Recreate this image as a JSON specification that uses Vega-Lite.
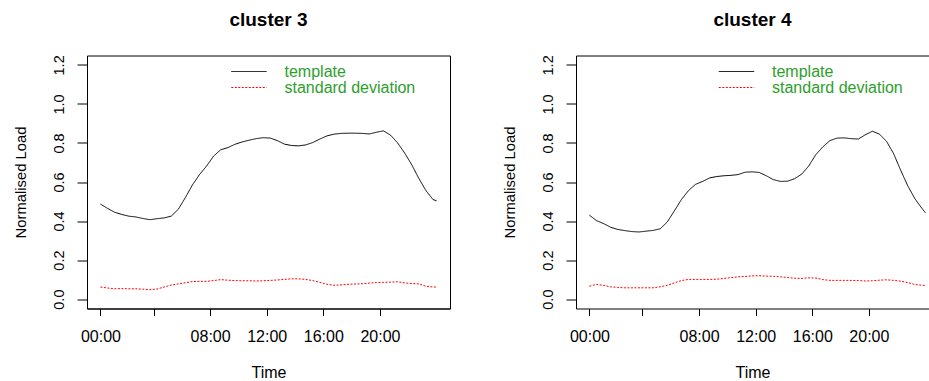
{
  "$schema": "https://vega.github.io/schema/vega-lite/v6.json",
  "autosize": {"type": "pad"},
  "padding": {"left": 12, "top": 10.5, "right": 0, "bottom": 0},
  "background": "white",
  "bounds": "flush",
  "spacing": 126,
  "config": {
    "font": "Liberation Sans",
    "view": {"stroke": "#000000", "strokeWidth": 1},
    "title": {"fontSize": 19, "fontWeight": "bold", "font": "Liberation Sans", "baseline": "alphabetic", "offset": 24.5, "anchor": "middle", "color": "#000000"},
    "axis": {"grid": false, "domainColor": "#000000", "tickColor": "#000000", "labelColor": "#000000", "titleColor": "#000000", "titleFontWeight": "normal", "labelFont": "Liberation Sans", "titleFont": "Liberation Sans"},
    "legend": {"labelFont": "Liberation Sans"}
  },
  "datasets": {
    "d": [
      {"c":"cluster 3","i":0,"template":0.487,"standard deviation":0.062},
      {"c":"cluster 3","i":2,"template":0.465,"standard deviation":0.057},
      {"c":"cluster 3","i":4,"template":0.445,"standard deviation":0.053},
      {"c":"cluster 3","i":6,"template":0.434,"standard deviation":0.054},
      {"c":"cluster 3","i":8,"template":0.425,"standard deviation":0.053},
      {"c":"cluster 3","i":10,"template":0.421,"standard deviation":0.053},
      {"c":"cluster 3","i":12,"template":0.413,"standard deviation":0.051},
      {"c":"cluster 3","i":14,"template":0.407,"standard deviation":0.048},
      {"c":"cluster 3","i":16,"template":0.412,"standard deviation":0.052},
      {"c":"cluster 3","i":18,"template":0.416,"standard deviation":0.062},
      {"c":"cluster 3","i":20,"template":0.425,"standard deviation":0.072},
      {"c":"cluster 3","i":22,"template":0.460,"standard deviation":0.078},
      {"c":"cluster 3","i":24,"template":0.520,"standard deviation":0.084},
      {"c":"cluster 3","i":26,"template":0.585,"standard deviation":0.090},
      {"c":"cluster 3","i":28,"template":0.638,"standard deviation":0.091},
      {"c":"cluster 3","i":30,"template":0.682,"standard deviation":0.091},
      {"c":"cluster 3","i":32,"template":0.733,"standard deviation":0.095},
      {"c":"cluster 3","i":34,"template":0.765,"standard deviation":0.100},
      {"c":"cluster 3","i":36,"template":0.776,"standard deviation":0.097},
      {"c":"cluster 3","i":38,"template":0.793,"standard deviation":0.095},
      {"c":"cluster 3","i":40,"template":0.805,"standard deviation":0.094},
      {"c":"cluster 3","i":42,"template":0.814,"standard deviation":0.094},
      {"c":"cluster 3","i":44,"template":0.822,"standard deviation":0.093},
      {"c":"cluster 3","i":46,"template":0.827,"standard deviation":0.094},
      {"c":"cluster 3","i":48,"template":0.825,"standard deviation":0.096},
      {"c":"cluster 3","i":50,"template":0.812,"standard deviation":0.098},
      {"c":"cluster 3","i":52,"template":0.794,"standard deviation":0.101},
      {"c":"cluster 3","i":54,"template":0.787,"standard deviation":0.104},
      {"c":"cluster 3","i":56,"template":0.785,"standard deviation":0.104},
      {"c":"cluster 3","i":58,"template":0.790,"standard deviation":0.101},
      {"c":"cluster 3","i":60,"template":0.802,"standard deviation":0.095},
      {"c":"cluster 3","i":62,"template":0.820,"standard deviation":0.086},
      {"c":"cluster 3","i":64,"template":0.836,"standard deviation":0.076},
      {"c":"cluster 3","i":66,"template":0.845,"standard deviation":0.071},
      {"c":"cluster 3","i":68,"template":0.849,"standard deviation":0.073},
      {"c":"cluster 3","i":70,"template":0.850,"standard deviation":0.076},
      {"c":"cluster 3","i":72,"template":0.850,"standard deviation":0.077},
      {"c":"cluster 3","i":74,"template":0.849,"standard deviation":0.079},
      {"c":"cluster 3","i":76,"template":0.846,"standard deviation":0.082},
      {"c":"cluster 3","i":78,"template":0.855,"standard deviation":0.085},
      {"c":"cluster 3","i":80,"template":0.862,"standard deviation":0.086},
      {"c":"cluster 3","i":82,"template":0.840,"standard deviation":0.087},
      {"c":"cluster 3","i":84,"template":0.800,"standard deviation":0.089},
      {"c":"cluster 3","i":86,"template":0.748,"standard deviation":0.083},
      {"c":"cluster 3","i":88,"template":0.688,"standard deviation":0.080},
      {"c":"cluster 3","i":90,"template":0.618,"standard deviation":0.078},
      {"c":"cluster 3","i":92,"template":0.556,"standard deviation":0.066},
      {"c":"cluster 3","i":94,"template":0.510,"standard deviation":0.062},
      {"c":"cluster 3","i":95,"template":0.504,"standard deviation":0.062},
      {"c":"cluster 4","i":0,"template":0.430,"standard deviation":0.066},
      {"c":"cluster 4","i":2,"template":0.402,"standard deviation":0.076},
      {"c":"cluster 4","i":4,"template":0.387,"standard deviation":0.070},
      {"c":"cluster 4","i":6,"template":0.368,"standard deviation":0.063},
      {"c":"cluster 4","i":8,"template":0.357,"standard deviation":0.060},
      {"c":"cluster 4","i":10,"template":0.351,"standard deviation":0.058},
      {"c":"cluster 4","i":12,"template":0.346,"standard deviation":0.058},
      {"c":"cluster 4","i":14,"template":0.344,"standard deviation":0.058},
      {"c":"cluster 4","i":16,"template":0.348,"standard deviation":0.058},
      {"c":"cluster 4","i":18,"template":0.352,"standard deviation":0.058},
      {"c":"cluster 4","i":20,"template":0.360,"standard deviation":0.063},
      {"c":"cluster 4","i":22,"template":0.395,"standard deviation":0.071},
      {"c":"cluster 4","i":24,"template":0.452,"standard deviation":0.083},
      {"c":"cluster 4","i":26,"template":0.510,"standard deviation":0.095},
      {"c":"cluster 4","i":28,"template":0.556,"standard deviation":0.101},
      {"c":"cluster 4","i":30,"template":0.588,"standard deviation":0.101},
      {"c":"cluster 4","i":32,"template":0.603,"standard deviation":0.101},
      {"c":"cluster 4","i":34,"template":0.621,"standard deviation":0.101},
      {"c":"cluster 4","i":36,"template":0.628,"standard deviation":0.102},
      {"c":"cluster 4","i":38,"template":0.632,"standard deviation":0.106},
      {"c":"cluster 4","i":40,"template":0.634,"standard deviation":0.110},
      {"c":"cluster 4","i":42,"template":0.638,"standard deviation":0.114},
      {"c":"cluster 4","i":44,"template":0.650,"standard deviation":0.116},
      {"c":"cluster 4","i":46,"template":0.652,"standard deviation":0.119},
      {"c":"cluster 4","i":48,"template":0.649,"standard deviation":0.120},
      {"c":"cluster 4","i":50,"template":0.632,"standard deviation":0.118},
      {"c":"cluster 4","i":52,"template":0.612,"standard deviation":0.117},
      {"c":"cluster 4","i":54,"template":0.603,"standard deviation":0.114},
      {"c":"cluster 4","i":56,"template":0.604,"standard deviation":0.111},
      {"c":"cluster 4","i":58,"template":0.617,"standard deviation":0.107},
      {"c":"cluster 4","i":60,"template":0.640,"standard deviation":0.106},
      {"c":"cluster 4","i":62,"template":0.682,"standard deviation":0.109},
      {"c":"cluster 4","i":64,"template":0.740,"standard deviation":0.108},
      {"c":"cluster 4","i":66,"template":0.780,"standard deviation":0.100},
      {"c":"cluster 4","i":68,"template":0.812,"standard deviation":0.096},
      {"c":"cluster 4","i":70,"template":0.825,"standard deviation":0.096},
      {"c":"cluster 4","i":72,"template":0.826,"standard deviation":0.096},
      {"c":"cluster 4","i":74,"template":0.822,"standard deviation":0.096},
      {"c":"cluster 4","i":76,"template":0.820,"standard deviation":0.095},
      {"c":"cluster 4","i":78,"template":0.842,"standard deviation":0.093},
      {"c":"cluster 4","i":80,"template":0.860,"standard deviation":0.094},
      {"c":"cluster 4","i":82,"template":0.845,"standard deviation":0.097},
      {"c":"cluster 4","i":84,"template":0.808,"standard deviation":0.099},
      {"c":"cluster 4","i":86,"template":0.745,"standard deviation":0.096},
      {"c":"cluster 4","i":88,"template":0.660,"standard deviation":0.092},
      {"c":"cluster 4","i":90,"template":0.580,"standard deviation":0.085},
      {"c":"cluster 4","i":92,"template":0.515,"standard deviation":0.075},
      {"c":"cluster 4","i":94,"template":0.465,"standard deviation":0.071},
      {"c":"cluster 4","i":95,"template":0.442,"standard deviation":0.070}
    ]
  },
  "resolve": {"scale": {"color": "independent", "strokeDash": "independent"}, "legend": {"color": "independent", "strokeDash": "independent"}},
  "hconcat": [
    {
      "title": "cluster 3",
      "width": 363,
      "height": 253,
      "data": {"name": "d"},
      "transform": [
        {"filter": "datum.c == 'cluster 3'"},
        {"fold": ["template", "standard deviation"], "as": ["series", "value"]}
      ],
      "mark": {"type": "line", "strokeWidth": 1, "clip": true},
      "encoding": {
        "x": {"field": "i", "type": "quantitative",
          "scale": {"domain": [-3.8, 98.8], "nice": false, "zero": false},
          "axis": {"values": [0, 15, 31, 47, 63, 79],
            "labelExpr": "datum.value == 0 ? '00:00' : datum.value == 31 ? '08:00' : datum.value == 47 ? '12:00' : datum.value == 63 ? '16:00' : datum.value == 79 ? '20:00' : ''",
            "title": "Time", "tickSize": 7, "labelBaseline": "alphabetic", "labelPadding": 26, "labelFontSize": 16, "labelFlush": false, "labelOverlap": false,
            "titleFontSize": 16, "titleBaseline": "alphabetic", "titleY": 69}},
        "y": {"field": "value", "type": "quantitative",
          "scale": {"domain": [-0.048, 1.248], "nice": false, "zero": false},
          "axis": {"values": [0, 0.2, 0.4, 0.6, 0.8, 1, 1.2], "format": ".1f", "title": "Normalised Load",
            "tickSize": 10, "labelAngle": 270, "labelAlign": "center", "labelBaseline": "alphabetic", "labelPadding": 14, "labelFontSize": 14.5,
            "titleFontSize": 14.8, "titleBaseline": "alphabetic", "titleX": -62, "titleAngle": 270}},
        "color": {"field": "series", "type": "nominal",
          "scale": {"domain": ["template", "standard deviation"], "range": ["#000000", "#ff0000"]},
          "legend": {"orient": "none", "legendX": 154, "legendY": 8, "title": null,
            "symbolType": "M-3.54,0H3.54", "symbolSize": 100, "symbolStrokeWidth": 1, "symbolFillColor": "transparent",
            "labelFontSize": 16, "labelColor": "#2ca02c", "labelOffset": 27.5, "rowPadding": 0, "padding": 0,
            "encode": {"symbols": {"update": {
              "strokeDash": {"signal": "datum.value == 'standard deviation' ? [2, 1.5] : [1, 0]"},
              "stroke": {"signal": "datum.value == 'standard deviation' ? '#ff0000' : '#000000'"},
              "fill": {"value": "transparent"}}}}}},
        "strokeDash": {"field": "series", "type": "nominal",
          "scale": {"domain": ["template", "standard deviation"], "range": [[1, 0], [2, 1.5]]},
          "legend": null}
      }
    },
    {
      "title": "cluster 4",
      "width": 353,
      "height": 253,
      "view": {"stroke": null},
      "data": {"name": "d"},
      "transform": [
        {"filter": "datum.c == 'cluster 4'"},
        {"fold": ["template", "standard deviation"], "as": ["series", "value"]}
      ],
      "resolve": {"axis": {"x": "independent"}},
      "layer": [
        {
          "mark": {"type": "line", "strokeWidth": 1, "clip": true},
          "encoding": {
            "x": {"field": "i", "type": "quantitative",
              "scale": {"domain": [-3.8, 96.0], "nice": false, "zero": false},
              "axis": {"values": [0, 15, 31, 47, 63, 79],
                "labelExpr": "datum.value == 0 ? '00:00' : datum.value == 31 ? '08:00' : datum.value == 47 ? '12:00' : datum.value == 63 ? '16:00' : datum.value == 79 ? '20:00' : ''",
                "title": "Time", "tickSize": 7, "labelBaseline": "alphabetic", "labelPadding": 26, "labelFontSize": 16, "labelFlush": false, "labelOverlap": false,
                "titleFontSize": 16, "titleBaseline": "alphabetic", "titleY": 69, "titleX": 176.5}},
            "y": {"field": "value", "type": "quantitative",
              "scale": {"domain": [-0.048, 1.248], "nice": false, "zero": false},
              "axis": {"values": [0, 0.2, 0.4, 0.6, 0.8, 1, 1.2], "format": ".1f", "title": "Normalised Load",
                "tickSize": 10, "labelAngle": 270, "labelAlign": "center", "labelBaseline": "alphabetic", "labelPadding": 14, "labelFontSize": 14.5,
                "titleFontSize": 14.8, "titleBaseline": "alphabetic", "titleX": -62, "titleAngle": 270}},
            "color": {"field": "series", "type": "nominal",
              "scale": {"domain": ["template", "standard deviation"], "range": ["#000000", "#ff0000"]},
              "legend": {"orient": "none", "legendX": 152.5, "legendY": 8, "title": null,
                "symbolType": "M-3.54,0H3.54", "symbolSize": 100, "symbolStrokeWidth": 1, "symbolFillColor": "transparent",
                "labelFontSize": 16, "labelColor": "#2ca02c", "labelOffset": 27.5, "rowPadding": 0, "padding": 0,
                "encode": {"symbols": {"update": {
                  "strokeDash": {"signal": "datum.value == 'standard deviation' ? [2, 1.5] : [1, 0]"},
                  "stroke": {"signal": "datum.value == 'standard deviation' ? '#ff0000' : '#000000'"},
                  "fill": {"value": "transparent"}}}}}},
            "strokeDash": {"field": "series", "type": "nominal",
              "scale": {"domain": ["template", "standard deviation"], "range": [[1, 0], [2, 1.5]]},
              "legend": null}
          }
        },
        {
          "mark": {"type": "point", "opacity": 0},
          "encoding": {
            "x": {"field": "i", "type": "quantitative",
              "scale": {"domain": [-3.8, 96.0], "nice": false, "zero": false},
              "axis": {"orient": "top", "labels": false, "ticks": false, "title": null, "domain": true}},
            "y": {"field": "value", "type": "quantitative",
              "scale": {"domain": [-0.048, 1.248], "nice": false, "zero": false}}
          }
        }
      ]
    }
  ]
}
